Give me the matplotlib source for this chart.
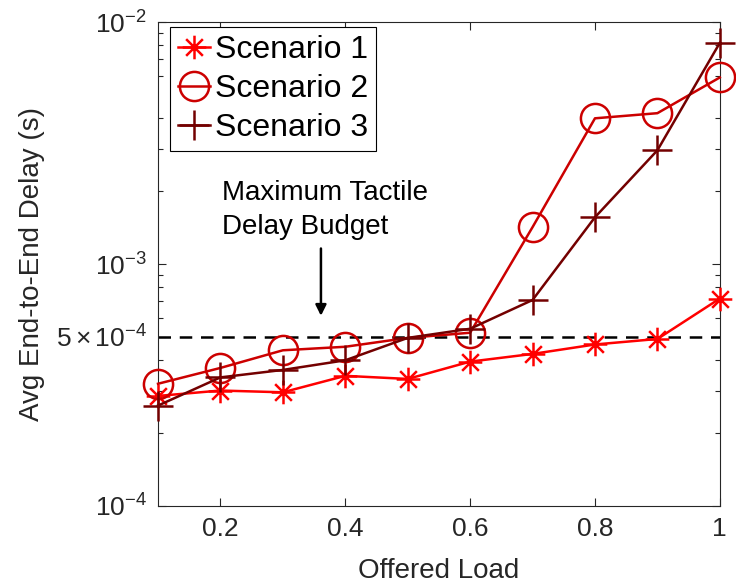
import matplotlib
matplotlib.use('Agg')
import matplotlib.pyplot as plt
from matplotlib.path import Path
from matplotlib.ticker import LogLocator, FixedLocator, FixedFormatter
import numpy as np

plt.rcParams['font.family'] = ['Liberation Sans', 'DejaVu Sans']
plt.rcParams['mathtext.fontset'] = 'custom'
plt.rcParams['mathtext.rm'] = 'Liberation Sans'
plt.rcParams['mathtext.it'] = 'Liberation Sans:italic'
plt.rcParams['mathtext.default'] = 'regular'

# data
load = [0.1, 0.2, 0.3, 0.4, 0.5, 0.6, 0.7, 0.8, 0.9, 1.0]
scen1 = [2.85e-4, 3.0e-4, 2.95e-4, 3.45e-4, 3.35e-4, 3.95e-4, 4.25e-4, 4.65e-4, 4.9e-4, 7.2e-4]
scen2 = [3.2e-4, 3.72e-4, 4.4e-4, 4.55e-4, 4.95e-4, 5.2e-4, 1.42e-3, 4.0e-3, 4.2e-3, 5.9e-3]
scen3 = [2.6e-4, 3.4e-4, 3.65e-4, 4.0e-4, 4.95e-4, 5.4e-4, 7.1e-4, 1.56e-3, 2.95e-3, 8.2e-3]
labels = ['Scenario 1', 'Scenario 2', 'Scenario 3']
budget = 5e-4

# matlab style asterisk marker
s = 0.7071
star = Path([(0, -1), (0, 1), (-1, 0), (1, 0), (-s, -s), (s, s), (-s, s), (s, -s)],
            [Path.MOVETO, Path.LINETO] * 4)

fig = plt.figure(figsize=(7.36, 5.87), dpi=100)
ax = fig.add_axes([0.2147, 0.138, 0.7633, 0.8245])

ax.plot(load, scen1, color=(1, 0, 0), lw=1.8, marker=star, ms=17, mew=1.8,
        mfc='none', label=labels[0], clip_on=False, zorder=3)
ax.plot(load, scen2, color=(0.8, 0, 0), lw=1.8, marker='o', ms=21, mew=1.8,
        mfc='none', label=labels[1], clip_on=False, zorder=3)
ax.plot(load, scen3, color=(0.45, 0, 0), lw=1.8, marker='+', ms=22, mew=1.8,
        label=labels[2], clip_on=False, zorder=3)
ax.plot([0.1, 1.0], [budget, budget], 'k--', lw=1.8, dashes=(5, 3.5), zorder=2)

ax.set_yscale('log')
ax.set_xlim(0.1, 1.0)
ax.set_ylim(1e-4, 1e-2)
ax.set_xticks([0.2, 0.4, 0.6, 0.8, 1.0])
ax.set_xticklabels(['0.2', '0.4', '0.6', '0.8', '1'])
ax.yaxis.set_major_locator(FixedLocator([1e-4, 5e-4, 1e-3, 1e-2]))
ax.yaxis.set_major_formatter(FixedFormatter(['$10^{-4}$', r'$5\times10^{-4}$', '$10^{-3}$', '$10^{-2}$']))
ax.yaxis.set_minor_locator(LogLocator(base=10, subs=[2, 3, 4, 6, 7, 8, 9]))
ax.yaxis.set_minor_formatter(plt.NullFormatter())

ax.tick_params(which='both', direction='in', top=True, right=True,
               colors=(0.15, 0.15, 0.15), width=0.8)
ax.tick_params(which='major', length=6, labelsize=19, pad=8)
ax.tick_params(which='minor', length=3.5)
for sp in ax.spines.values():
    sp.set_color((0.15, 0.15, 0.15))
    sp.set_linewidth(0.8)

ax.set_xlabel('Offered Load', fontsize=20, color=(0.15, 0.15, 0.15), labelpad=12)
ax.set_ylabel('Avg End-to-End Delay (s)', fontsize=20, color=(0.15, 0.15, 0.15), labelpad=8)

ax.annotate('', xy=(0.361, 5.95e-4), xytext=(0.361, 1.19e-3),
            arrowprops=dict(arrowstyle='-|>', color='k', lw=1.8, mutation_scale=16))
ax.text(0.202, 2.22e-3, 'Maximum Tactile\nDelay Budget', fontsize=20,
        ha='left', va='top', linespacing=1.4)

leg = ax.legend(loc='upper left', bbox_to_anchor=(0.022, 0.99), fontsize=23,
                handlelength=1.0, handletextpad=0.15, borderpad=0.25, labelspacing=0.28,
                borderaxespad=0.0, fancybox=False, framealpha=1, edgecolor='k')
leg.get_frame().set_linewidth(0.8)

fig.savefig('out.png', dpi=100)
